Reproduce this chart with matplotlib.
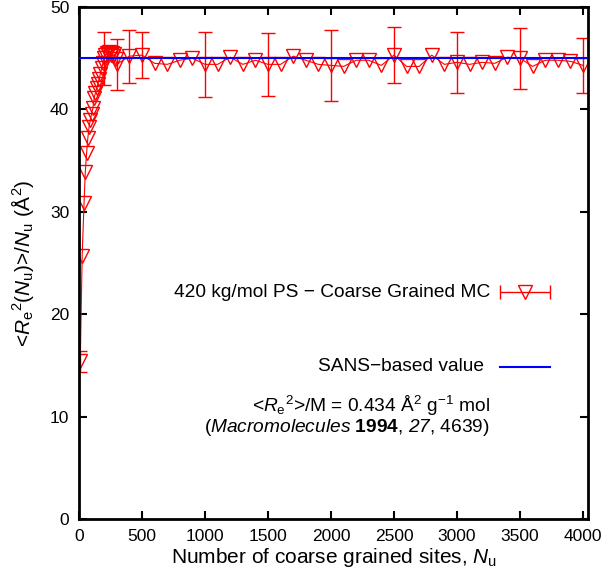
import numpy as np
import matplotlib
matplotlib.use("Agg")
import matplotlib.pyplot as plt

plt.rcParams['font.family'] = ['Liberation Sans', 'DejaVu Sans']
plt.rcParams['mathtext.fontset'] = 'custom'
plt.rcParams['mathtext.rm'] = 'Liberation Sans'
plt.rcParams['mathtext.it'] = 'Liberation Sans:italic'
plt.rcParams['mathtext.bf'] = 'Liberation Sans:bold'
# italic digits: mathtext keeps digits upright under \mathit, so borrow sf
plt.rcParams['mathtext.sf'] = 'Liberation Sans:italic'

# Coarse grained MC: <Re^2(Nu)>/Nu versus Nu
n_sites = [10, 25, 40, 50, 60, 70, 80, 90, 100, 110, 120, 130, 140, 150, 160, 170, 180, 190,
           200, 210, 220, 230, 240, 250, 260, 270, 280, 290, 300,
           400, 500, 600, 700, 800, 900, 1000, 1100, 1200, 1300, 1400, 1500, 1600, 1700,
           1800, 1900, 2000, 2100, 2200, 2300, 2400, 2500, 2600, 2700, 2800, 2900, 3000,
           3100, 3200, 3300, 3400, 3500, 3600, 3700, 3800, 3900, 4000]
re2_per_n = [15.4, 25.7, 30.9, 33.9, 35.7, 37.2, 38.3, 39.0, 39.6, 40.1, 41.1, 41.6, 42.1, 42.5,
             43.0, 43.5, 44.0, 44.5,
             45.0, 45.3, 45.5, 45.4, 45.6, 45.3, 45.5, 45.2, 45.4, 44.9, 44.4,
             45.2, 45.3, 44.5, 44.4, 44.8, 45.0, 44.4, 44.4, 45.1, 44.4, 44.8, 44.4, 44.4, 45.2,
             44.8, 44.4, 44.3, 44.2, 44.8, 44.8, 44.3, 45.3, 44.2, 44.2, 45.3, 44.4, 44.6,
             44.4, 44.6, 44.5, 45.1, 45.0, 44.2, 44.8, 44.8, 44.7, 44.3]

# error bars only given on a few points
err_sites = [10, 200, 300, 400, 500, 1000, 1500, 2000, 2500, 3000, 3500, 4000]
err_size = [1.05, 2.6, 2.5, 2.6, 2.25, 3.2, 3.1, 3.5, 2.75, 3.0, 3.0, 2.7]

sans_value = 45.0

x_ticks = [0, 500, 1000, 1500, 2000, 2500, 3000, 3500, 4000]
y_ticks = [0, 10, 20, 30, 40, 50]


def main():
    fig = plt.figure(figsize=(6.05, 5.71), dpi=100)
    ax = fig.add_axes([0.1306, 0.0911, 0.8413, 0.8966])

    red = '#ff0000'
    blue = '#0000ff'

    # SANS reference line
    ax.axhline(sans_value, color=blue, lw=1.5, zorder=3)

    # MC data with line and open triangles
    ax.plot(n_sites, re2_per_n, color=red, lw=0.8, marker='v', ms=9.5,
            mfc='none', mec=red, mew=1.0, zorder=2)

    lookup = dict(zip(n_sites, re2_per_n))
    err_y = [lookup[n] for n in err_sites]
    ax.errorbar(err_sites, err_y, yerr=err_size, fmt='none', ecolor=red,
                elinewidth=1.0, capsize=5, capthick=1.0, zorder=2)

    ax.set_xlim(0, 4040)
    ax.set_ylim(0, 50)
    ax.set_xticks(x_ticks)
    ax.set_yticks(y_ticks)

    for s in ax.spines.values():
        s.set_linewidth(2.0)
    ax.tick_params(direction='in', top=True, right=True, length=6, width=1.5,
                   labelsize=12.5, pad=7)

    ax.set_xlabel(r'Number of coarse grained sites, $\mathit{N}_{\rm u}$', fontsize=15, labelpad=2)
    ax.set_ylabel(r'<$\mathit{R}_{\rm e}{}^{2}$($\mathit{N}_{\rm u}$)>/$\mathit{N}_{\rm u}$ (Å$^{2}$)',
                  fontsize=15, labelpad=10)

    # Legend drawn by hand (gnuplot style)
    tx = 0.807
    fs = 13.8
    ax.text(tx, 0.443, '420 kg/mol PS \u2212 Coarse Grained MC', ha='right', va='center',
            fontsize=fs, transform=ax.transAxes)
    ax.errorbar([0.876], [0.443], xerr=[0.049], fmt='v', ms=9.5, mfc='none', mec=red,
                ecolor=red, elinewidth=1.0, capsize=5, capthick=1.0, transform=ax.transAxes,
                clip_on=False)
    ax.text(0.796, 0.297, 'SANS\u2212based value', ha='right', va='center',
            fontsize=fs, transform=ax.transAxes)
    ax.plot([0.827, 0.925], [0.297, 0.297], color=blue, lw=1.5, transform=ax.transAxes)

    ax.text(tx, 0.221, r'<$\mathit{R}_{\rm e}{}^{2}$>/M = 0.434 Å$^{2}$ g$^{-1}$ mol',
            ha='right', va='center', fontsize=fs, transform=ax.transAxes)
    ax.text(tx, 0.178, r'($\mathit{Macromolecules}$ $\mathbf{1994}$, $\mathsf{27}$, 4639)',
            ha='right', va='center', fontsize=fs, transform=ax.transAxes)

    fig.savefig('out.png', dpi=100)


if __name__ == "__main__":
    main()
